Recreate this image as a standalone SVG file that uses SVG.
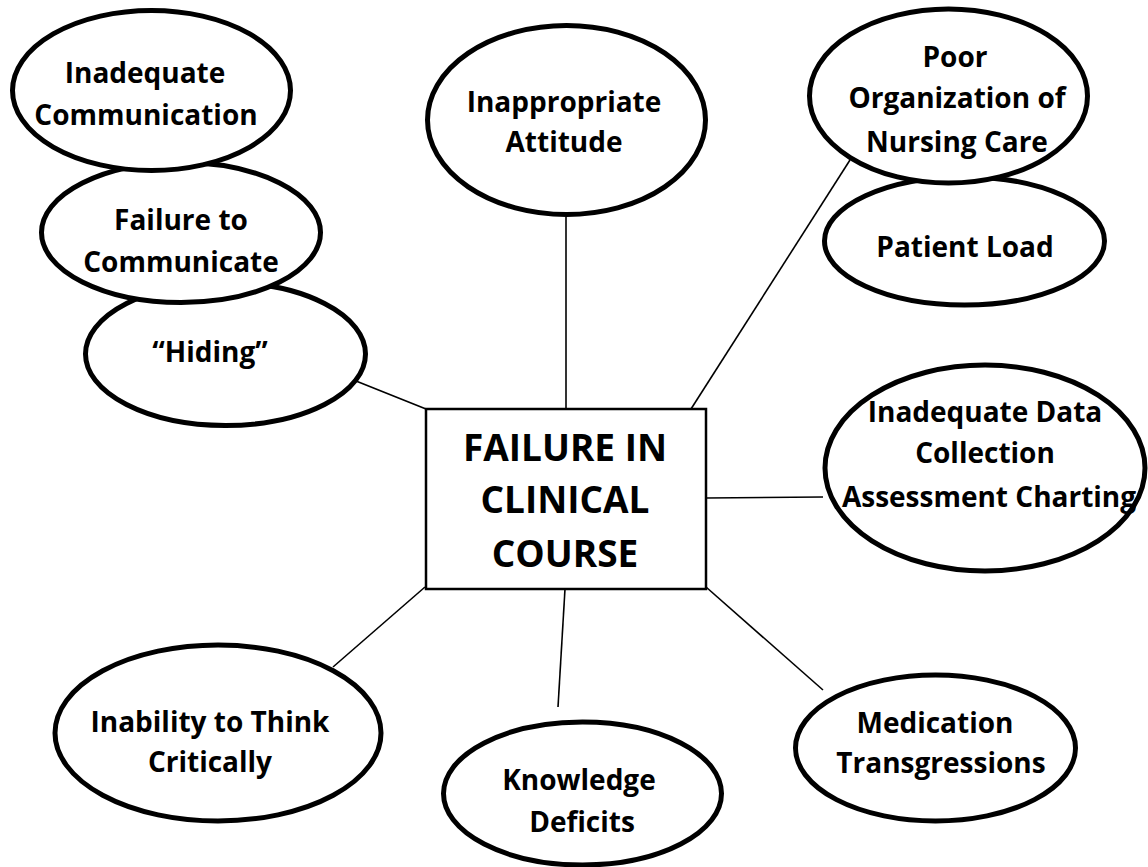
<svg xmlns="http://www.w3.org/2000/svg" width="1148" height="867" viewBox="0 0 1148 867">
<style>
.n{fill:#fff;stroke:#000;stroke-width:5}
.t{font-family:"Open Sans","Liberation Sans",sans-serif;font-weight:bold;font-size:28px;fill:#000;text-anchor:middle}
.c{font-size:37px}
.e{stroke:#000;stroke-width:1.6;fill:none}
</style>
<rect x="0" y="0" width="1148" height="867" fill="#fff"/>
<g id="connectors">
<line class="e" x1="356" y1="381" x2="426" y2="409"/>
<line class="e" x1="566" y1="217" x2="566" y2="409"/>
<line class="e" x1="850" y1="160" x2="691" y2="409"/>
<line class="e" x1="706" y1="498" x2="823" y2="497"/>
<line class="e" x1="706" y1="587" x2="823" y2="690"/>
<line class="e" x1="565" y1="589" x2="558" y2="707"/>
<line class="e" x1="425" y1="587" x2="333" y2="667"/>
</g>
<g id="center">
<rect x="426" y="409" width="280" height="180" fill="#fff" stroke="#000" stroke-width="2.5"/>
<text class="t c" x="565" y="461">FAILURE IN</text>
<text class="t c" x="565" y="513">CLINICAL</text>
<text class="t c" x="565" y="567">COURSE</text>
</g>
<g id="hiding">
<ellipse class="n" cx="225.5" cy="354" rx="140" ry="71.5"/>
<text class="t" x="210" y="362">“Hiding”</text>
</g>
<g id="failure-communicate">
<ellipse class="n" cx="181" cy="232.5" rx="139.5" ry="70"/>
<text class="t" x="181" y="230">Failure to</text>
<text class="t" x="181" y="272">Communicate</text>
</g>
<g id="inadequate-communication">
<ellipse class="n" cx="151.5" cy="90.5" rx="139" ry="80"/>
<text class="t" x="145" y="83">Inadequate</text>
<text class="t" x="146" y="125">Communication</text>
</g>
<g id="attitude">
<ellipse class="n" cx="566.5" cy="120" rx="139" ry="94.5"/>
<text class="t" x="564" y="112">Inappropriate</text>
<text class="t" x="564" y="152">Attitude</text>
</g>
<g id="patient-load">
<ellipse class="n" cx="964.5" cy="241" rx="140" ry="64"/>
<text class="t" x="965" y="257">Patient Load</text>
</g>
<g id="poor-organization">
<ellipse class="n" cx="948.5" cy="96" rx="139" ry="87"/>
<text class="t" x="955" y="67">Poor</text>
<text class="t" x="957" y="108">Organization of</text>
<text class="t" x="957" y="152">Nursing Care</text>
</g>
<g id="data-collection">
<ellipse class="n" cx="985" cy="468" rx="160" ry="103"/>
<text class="t" x="985" y="422">Inadequate Data</text>
<text class="t" x="985" y="463">Collection</text>
<text class="t" x="989" y="507">Assessment Charting</text>
</g>
<g id="inability">
<ellipse class="n" cx="218" cy="733" rx="163" ry="88"/>
<text class="t" x="210" y="732">Inability to Think</text>
<text class="t" x="210" y="772">Critically</text>
</g>
<g id="knowledge">
<ellipse class="n" cx="582.5" cy="793.5" rx="139" ry="71.5"/>
<text class="t" x="579" y="790">Knowledge</text>
<text class="t" x="582" y="832">Deficits</text>
</g>
<g id="medication">
<ellipse class="n" cx="935.5" cy="748" rx="140" ry="73"/>
<text class="t" x="935" y="733">Medication</text>
<text class="t" x="941" y="773">Transgressions</text>
</g>
</svg>
